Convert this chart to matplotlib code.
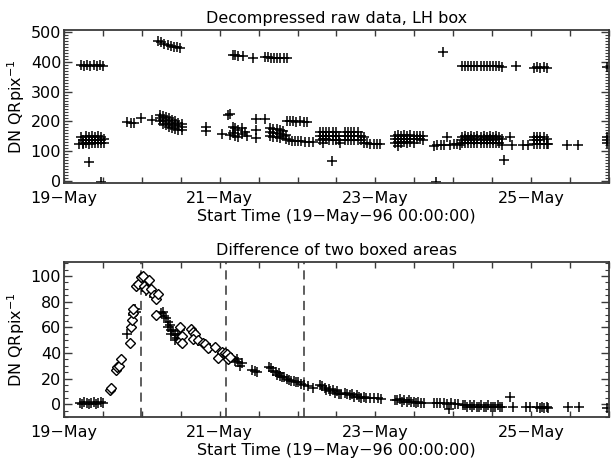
import matplotlib
matplotlib.use("Agg")
import matplotlib.pyplot as plt
from matplotlib.ticker import MultipleLocator, FixedLocator, FixedFormatter

plt.rcParams['font.family'] = ['DejaVu Sans']

# ---------------- data (x in days since 19-May-96 00:00) ----------------
raw_x = [0.22, 0.26, 0.30, 0.34, 0.38, 0.42, 0.46, 0.50,
         0.19, 0.22, 0.24, 0.24, 0.24, 0.28, 0.28, 0.28, 0.32, 0.32, 0.32,
         0.36, 0.36, 0.36, 0.40, 0.40, 0.40, 0.44, 0.44, 0.44, 0.48, 0.48,
         0.48, 0.52, 0.52, 0.32, 0.48,
         0.81, 0.86, 0.90, 0.99, 1.13,
         1.21, 1.25, 1.29, 1.33, 1.37, 1.41, 1.45, 1.49,
         1.23, 1.23, 1.23, 1.27, 1.27, 1.27, 1.31, 1.31, 1.31, 1.35, 1.35,
         1.35, 1.39, 1.39, 1.39, 1.43, 1.43, 1.43, 1.47, 1.47, 1.47, 1.51,
         1.51, 1.51,
         1.82, 1.83, 2.03, 2.11, 2.13, 2.13, 2.17, 2.17, 2.20, 2.20, 2.24,
         2.24, 2.28, 2.28, 2.32, 2.35, 2.46, 2.46, 2.47, 2.58,
         2.17, 2.20, 2.24, 2.30, 2.43, 2.58, 2.62, 2.66, 2.70, 2.74, 2.78,
         2.82, 2.86,
         2.65, 2.65, 2.65, 2.69, 2.69, 2.69, 2.73, 2.73, 2.73, 2.77, 2.77,
         2.77, 2.81, 2.81, 2.85, 2.85,
         2.89, 2.93, 2.97, 3.01, 3.05, 3.10, 3.15, 3.20,
         2.86, 2.90, 2.94, 2.98, 3.03, 3.08, 3.12,
         3.29, 3.29, 3.29, 3.33, 3.33, 3.33, 3.33, 3.37, 3.37, 3.37, 3.41,
         3.41, 3.41, 3.45, 3.45, 3.45, 3.49, 3.49, 3.49, 3.53, 3.53, 3.55,
         3.61, 3.61, 3.61, 3.65, 3.65, 3.65, 3.69, 3.69, 3.69, 3.73, 3.73,
         3.73, 3.77, 3.77, 3.77, 3.81, 3.81, 3.85, 3.85, 3.89,
         3.93, 3.98, 4.02, 4.06, 3.44,
         4.25, 4.25, 4.25, 4.29, 4.29, 4.29, 4.29, 4.33, 4.33, 4.33, 4.37,
         4.37, 4.37, 4.41, 4.41, 4.41, 4.45, 4.45, 4.45, 4.49, 4.49, 4.49,
         4.53, 4.53, 4.57, 4.57, 4.61, 4.61,
         4.75, 4.79, 4.84, 4.88, 4.92, 4.96, 5.01, 5.05, 4.87, 4.78,
         5.11, 5.15, 5.19, 5.23, 5.27, 5.31, 5.35, 5.39, 5.43, 5.47, 5.51,
         5.55, 5.59, 5.63, 5.81, 6.04, 6.08, 6.12, 6.16, 6.20, 6.98,
         5.09, 5.11, 5.11, 5.11, 5.15, 5.15, 5.15, 5.19, 5.19, 5.19, 5.23,
         5.23, 5.23, 5.27, 5.27, 5.27, 5.31, 5.31, 5.31, 5.35, 5.35, 5.35,
         5.39, 5.39, 5.39, 5.43, 5.43, 5.43, 5.47, 5.47, 5.47, 5.51, 5.51,
         5.51, 5.55, 5.55, 5.55, 5.59, 5.59, 5.63, 5.63,
         5.65, 5.73, 5.75, 5.90, 5.96,
         6.04, 6.04, 6.04, 6.08, 6.08, 6.08, 6.12, 6.12, 6.12, 6.16, 6.16,
         6.20, 6.20, 6.22,
         6.46, 6.60, 6.98, 6.98, 6.98]
raw_y = [389, 388, 390, 387, 389, 388, 390, 386,
         122, 148, 138, 128, 124, 149, 137, 126, 148, 136, 125,
         149, 138, 127, 148, 137, 126, 149, 138, 127, 147, 136,
         126, 139, 128, 64, -4,
         198, 196, 195, 211, 205,
         471, 466, 462, 458, 455, 452, 449, 446,
         220, 210, 200, 218, 205, 192, 214, 200, 186, 210, 196,
         182, 206, 192, 178, 200, 188, 175, 195, 183, 172, 192,
         180, 170,
         180, 167, 158, 220, 224, 155, 182, 160, 176, 150, 170,
         146, 178, 158, 165, 152, 145, 171, 208, 208,
         423, 422, 421, 419, 413, 416, 416, 415, 414, 414, 413,
         413, 412,
         176, 165, 152, 174, 162, 148, 173, 160, 146, 170, 157,
         143, 168, 150, 155, 140,
         136, 135, 134, 133, 132, 131, 130, 130,
         201, 200, 200, 199, 200, 199, 197,
         163, 150, 137, 165, 152, 140, 127, 164, 151, 139, 163,
         150, 138, 164, 150, 137, 163, 150, 138, 151, 138, 128,
         164, 151, 137, 163, 150, 138, 164, 151, 137, 163, 150,
         138, 163, 150, 137, 150, 138, 148, 128, 128,
         124, 124, 124, 124, 67,
         152, 140, 128, 153, 141, 129, 118, 152, 140, 128, 153,
         141, 129, 152, 140, 128, 153, 141, 129, 152, 140, 128,
         152, 140, 151, 139, 150, 138,
         118, 120, 121, 120, 147, 121, 122, 122, 433, -4,
         385, 386, 385, 386, 385, 386, 385, 386, 385, 386, 385,
         386, 385, 384, 388, 381, 383, 381, 383, 381, 383,
         120, 148, 138, 128, 149, 139, 128, 148, 138, 128, 149,
         139, 128, 148, 138, 128, 149, 139, 128, 148, 138, 128,
         149, 139, 128, 148, 138, 128, 149, 139, 128, 148, 138,
         128, 149, 139, 128, 148, 128, 140, 120,
         70, 148, 120, 120, 120,
         146, 136, 122, 146, 136, 122, 146, 136, 122, 146, 122,
         140, 125, 122,
         120, 120, 128, 138, 148]

plus_x = [0.20, 0.23, 0.26, 0.29, 0.32, 0.35, 0.38, 0.41, 0.44, 0.47, 0.50,
          0.81, 0.88, 0.91, 0.93, 1.05, 1.16,
          1.25, 1.27, 1.29, 1.31, 1.33, 1.34, 1.36, 1.38, 1.38, 1.40, 1.42,
          1.43, 1.45, 1.47, 1.49,
          1.72, 1.80, 1.88, 2.03, 2.07, 2.10, 2.13, 2.16, 2.19, 2.22, 2.24,
          2.26, 2.28, 2.41, 2.45, 2.48,
          2.63, 2.66, 2.69, 2.72, 2.74, 2.76, 2.78, 2.80, 2.83, 2.86, 2.89,
          2.92, 2.95, 2.98, 3.01, 3.04, 3.08, 3.13, 3.20,
          3.29, 3.32, 3.35, 3.37, 3.40, 3.42, 3.45, 3.48, 3.51, 3.53, 3.56,
          3.61, 3.64, 3.67, 3.70, 3.73, 3.76, 3.79, 3.82, 3.85, 3.88, 3.93,
          3.98, 4.03, 4.07,
          4.25, 4.28, 4.31, 4.34, 4.37, 4.40, 4.43, 4.46, 4.49, 4.52, 4.55,
          4.58, 4.62,
          4.75, 4.79, 4.83, 4.88, 4.92, 4.94, 4.97, 5.02, 5.06,
          5.12, 5.15, 5.18, 5.21, 5.24, 5.27, 5.30, 5.33, 5.36, 5.39, 5.42,
          5.45, 5.48, 5.51, 5.54, 5.57, 5.60, 5.63,
          5.73, 5.77, 5.93, 5.99, 6.08, 6.11, 6.14, 6.17, 6.20, 6.22, 6.47,
          6.61, 6.98]
plus_y = [1, 0, 2, 1, 0, 1, 2, 0, 1, 2, 1,
          55, 70, 74, 72, 88, 84,
          71, 72, 69, 67, 64, 60, 62, 58, 55, 57, 54,
          50, 52, 55, 58,
          49, 47, 44, 40, 39, 38, 37, 36, 34, 35, 33,
          30, 32, 27, 26, 25,
          29, 28, 26, 25, 23, 24, 22, 21, 21, 20, 19,
          18, 18, 17, 17, 16, 15, 14, 13,
          15, 14, 13, 11, 12, 10, 11, 9, 10, 8, 8,
          9, 8, 7, 8, 6, 7, 6, 5, 6, 5, 5,
          5, 5, 4,
          3, 3, 4, 2, 3, 2, 3, 2, 2, 1, 2,
          1, 1,
          1, 1, 1, 1, 0, -4, 1, 0, 0,
          -1, -1, -2, -1, -2, -1, -2, -2, -1, -2, -2,
          -1, -2, -2, -2, -1, -2, -2,
          6, -2, -2, -2, -2, -3, -2, -3, -2, -3, -2,
          -2, -3]

diam_x = [0.59, 0.60, 0.67, 0.68, 0.70, 0.73, 0.85, 0.86, 0.87, 0.88, 0.89,
          0.93, 0.95, 0.99, 1.01, 1.03, 1.05, 1.09, 1.12, 1.16, 1.18, 1.21,
          1.18,
          1.49, 1.49, 1.52, 1.52, 1.63, 1.66, 1.68, 1.66, 1.72, 1.79, 1.81,
          1.85, 1.94, 1.98, 2.03, 2.07, 2.09, 2.11, 2.13]
diam_y = [11, 13, 27, 29, 30, 35, 48, 60, 66, 71, 74,
          92, 94, 99, 100, 92, 90, 97, 90, 85, 82, 86,
          70,
          60, 49, 53, 48, 59, 56, 55, 51, 50, 48, 47,
          44, 45, 36, 41, 40, 39, 35, 37]

event_days = [0.99, 2.08, 3.08]

day_ticks = [0, 2, 4, 6]
day_labels = ['19\u2212May', '21\u2212May', '23\u2212May', '25\u2212May']

titles = ['Decompressed raw data, LH box', 'Difference of two boxed areas']
xlabel = 'Start Time (19\u2212May\u221296 00:00:00)'
ylabel = 'DN QRpix$^{-1}$'

# ---------------- figure ----------------
W, H = 611, 465
fig = plt.figure(figsize=(W / 100, H / 100), dpi=100)
frame_col = '#3a3a3a'
fs = 11.5

def px_axes(left, top, right, bottom):
    return fig.add_axes([left / W, 1 - bottom / H, (right - left) / W, (bottom - top) / H])

ax1 = px_axes(64, 30, 609, 183)
ax2 = px_axes(64, 262, 609, 417)

for ax in (ax1, ax2):
    for s in ax.spines.values():
        s.set_color(frame_col)
        s.set_linewidth(1.3)
    ax.set_xlim(0, 7)
    ax.xaxis.set_major_locator(FixedLocator(day_ticks))
    ax.xaxis.set_major_formatter(FixedFormatter(day_labels))
    ax.xaxis.set_minor_locator(MultipleLocator(0.5))
    ax.tick_params(axis='x', which='both', direction='in', top=True, bottom=True,
                   length=4, width=1.0, color=frame_col, labelsize=fs, pad=6)
    ax.tick_params(axis='y', which='major', direction='in', left=True, right=True,
                   length=6, width=1.0, color=frame_col, labelsize=fs, pad=2)
    ax.tick_params(axis='y', which='minor', direction='in', left=True, right=True,
                   length=3, width=0.8, color=frame_col)
    ax.set_xlabel(xlabel, fontsize=fs, labelpad=2)
    ax.set_ylabel(ylabel, fontsize=fs, labelpad=3)

ax1.set_ylim(-8, 508)
ax1.yaxis.set_major_locator(MultipleLocator(100))
ax1.yaxis.set_minor_locator(MultipleLocator(10))
ax1.set_title(titles[0], fontsize=fs, pad=5)
ax1.plot(raw_x, raw_y, linestyle='none', marker='+', color='black',
         markersize=6.5, markeredgewidth=1.1, clip_on=True)

ax2.set_ylim(-10, 111)
ax2.yaxis.set_major_locator(MultipleLocator(20))
ax2.yaxis.set_minor_locator(MultipleLocator(5))
ax2.set_title(titles[1], fontsize=fs, pad=5)
for d in event_days:
    ax2.axvline(d, color='#333333', linestyle=(0, (6, 4)), linewidth=1.1)
ax2.plot(plus_x, plus_y, linestyle='none', marker='+', color='black',
         markersize=6.5, markeredgewidth=1.1)
ax2.plot(diam_x, diam_y, linestyle='none', marker='D', markerfacecolor='white',
         markeredgecolor='black', markersize=5, markeredgewidth=1.0)

fig.savefig('out.png', dpi=100)
